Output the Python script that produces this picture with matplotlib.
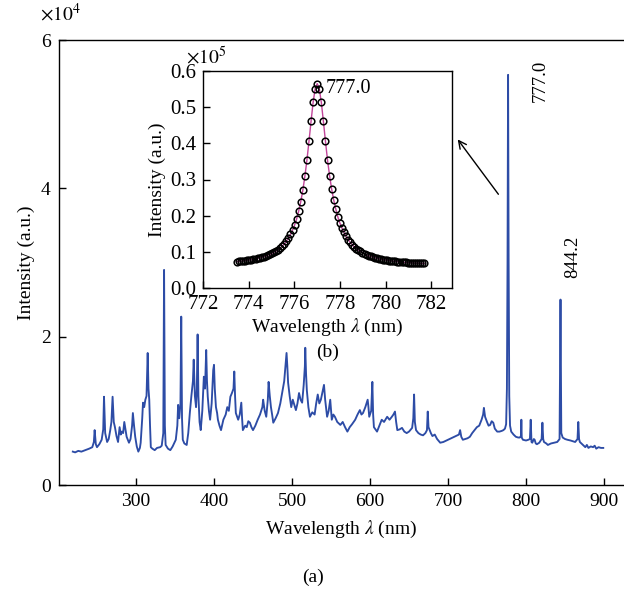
import matplotlib
matplotlib.use("Agg")
import matplotlib.pyplot as plt

plt.rcParams["font.family"] = ["Liberation Serif", "DejaVu Serif"]
plt.rcParams["mathtext.fontset"] = "stix"

W, H = 624, 592

# main spectrum: wavelength (nm), intensity (x1e4)
wl = [219, 222, 226, 230, 235, 240, 244, 246, 247, 248.5, 250, 253, 256, 258, 259, 260.5,
      263, 265, 267, 268.5, 270, 271.5, 273, 275, 277, 279, 280.5, 282, 283.5, 285, 286.5,
      288, 291, 293, 295, 296, 297.5, 299, 301, 303, 305, 306, 308, 309, 310.5, 312, 313.5,
      315, 316, 317, 318, 319, 321, 324, 327, 331, 333, 335, 336, 337, 338, 341, 344, 347,
      351, 353, 354, 355.5, 357, 358, 359, 360, 362, 365, 367, 369, 371, 373, 374, 375.5,
      377, 378, 379, 380, 381.5, 383, 385, 387, 388.5, 390, 391, 392, 393.5, 395, 397, 399,
      400, 401, 402.5, 404, 405, 407, 409, 412, 415, 417, 419, 421, 423, 425, 426, 427, 428,
      431, 433, 435, 436, 437, 440, 442, 444, 446, 448, 450, 453, 456, 459, 462, 463, 465,
      467, 469, 470, 471.5, 473, 474.5, 476, 479, 482, 485, 488, 490, 492, 493, 494, 495,
      497, 499, 501, 503, 505, 507, 509, 511, 513, 515, 516.5, 517, 518, 519, 521, 523, 526,
      529, 531, 533, 535, 537, 539, 541, 542.5, 545, 547, 549, 551, 553, 555, 558, 562, 565,
      568, 571, 574, 577, 581, 584, 587, 589, 591, 594, 597, 598, 599, 601.5, 603, 604, 605,
      607, 609, 612, 615, 618, 622, 625, 628, 630, 632, 633.5, 635, 638, 641, 644, 647, 650,
      654, 655.5, 656.5, 657.5, 659, 662, 665, 668, 671, 673, 674, 675, 678, 680, 683, 686,
      690, 694, 698, 702, 706, 710, 714, 715.5, 717, 719, 722, 725, 728, 731, 734, 737, 740,
      743, 745, 746, 747.5, 750, 752, 754, 756, 758, 760, 763, 766, 769, 771, 773, 774.5,
      775.5, 776.3, 777, 777.7, 778.5, 779.5, 781, 784, 787, 790, 792, 793.5, 794, 794.5,
      796, 800, 803, 805, 806, 807, 808, 810, 811, 812.5, 814, 817, 820, 821, 822, 823, 826,
      828, 832, 836, 840, 843, 844.2, 845.2, 847, 850, 853, 857, 860, 863, 866, 867, 868,
      869, 872, 876, 878, 880, 883, 886, 888, 890, 893, 896, 899]
inten = [0.45, 0.44, 0.46, 0.45, 0.47, 0.49, 0.51, 0.58, 0.74, 0.55, 0.51, 0.55, 0.61, 0.75, 1.19, 0.70,
         0.58, 0.62, 0.74, 0.85, 1.19, 0.85, 0.78, 0.66, 0.58, 0.78, 0.68, 0.72, 0.70, 0.85, 0.75,
         0.65, 0.57, 0.62, 0.80, 0.97, 0.80, 0.65, 0.52, 0.45, 0.50, 0.57, 0.90, 1.11, 1.05, 1.15, 1.20,
         1.78, 1.30, 1.15, 0.80, 0.51, 0.49, 0.47, 0.50, 0.51, 0.53, 0.70, 2.90, 0.80, 0.54, 0.49, 0.47, 0.52,
         0.61, 0.80, 1.08, 0.90, 1.10, 2.27, 0.90, 0.61, 0.56, 0.54, 0.70, 0.97, 1.20, 1.40, 1.69, 1.20,
         1.05, 1.30, 2.03, 1.20, 0.85, 0.74, 1.00, 1.46, 1.30, 1.82, 1.40, 1.19, 1.00, 0.88, 1.10, 1.55,
         1.62, 1.30, 1.05, 0.97, 0.88, 0.80, 0.74, 0.88, 0.95, 1.05, 1.00, 1.19, 1.24, 1.30, 1.53, 1.20, 0.97,
         0.88, 0.95, 1.11, 0.90, 0.74, 0.80, 0.78, 0.86, 0.84, 0.78, 0.74, 0.80, 0.88, 0.95, 1.05, 1.15, 1.00,
         0.92, 1.15, 1.39, 1.20, 1.05, 0.95, 0.84, 0.90, 0.97, 1.10, 1.28, 1.40, 1.65, 1.78, 1.60, 1.38,
         1.20, 1.05, 1.15, 1.08, 1.01, 1.10, 1.24, 1.15, 1.11, 1.35, 1.60, 1.85, 1.50, 1.28, 1.05, 0.92, 0.98,
         0.95, 1.10, 1.22, 1.10, 1.15, 1.25, 1.35, 1.15, 0.92, 1.00, 1.15, 0.88, 0.95, 0.92, 0.85, 0.81, 0.85,
         0.78, 0.72, 0.78, 0.82, 0.88, 0.95, 1.01, 0.95, 0.97, 1.05, 1.15, 1.05, 0.92, 1.00, 1.39, 0.95, 0.78,
         0.75, 0.72, 0.80, 0.88, 0.85, 0.92, 0.88, 0.92, 0.95, 0.99, 0.85, 0.74, 0.75, 0.77, 0.72, 0.70, 0.72,
         0.77, 0.90, 1.22, 0.85, 0.74, 0.70, 0.68, 0.67, 0.70, 0.74, 0.99, 0.78, 0.70, 0.66, 0.68, 0.62,
         0.57, 0.58, 0.60, 0.62, 0.64, 0.66, 0.68, 0.74, 0.65, 0.61, 0.62, 0.63, 0.65, 0.70, 0.74, 0.78, 0.80,
         0.88, 0.95, 1.04, 0.92, 0.85, 0.80, 0.81, 0.86, 0.84, 0.76, 0.72, 0.72, 0.73, 0.74, 0.76, 0.82,
         1.30, 3.00, 5.53, 3.00, 1.20, 0.80, 0.72, 0.68, 0.65, 0.64, 0.64, 0.66, 0.88, 0.64,
         0.61, 0.60, 0.61, 0.62, 0.88, 0.58, 0.57, 0.62, 0.61, 0.56, 0.55, 0.57, 0.62, 0.84, 0.62, 0.58, 0.56,
         0.54, 0.56, 0.57, 0.58, 0.62, 2.50, 0.70, 0.64, 0.62, 0.61, 0.60, 0.59, 0.58, 0.62, 0.85, 0.62,
         0.58, 0.55, 0.51, 0.54, 0.50, 0.52, 0.51, 0.53, 0.49, 0.51, 0.50, 0.50]

# inset: measured points around the 777.0 nm line (x1e5)
wl_in = [773.49, 773.58, 773.67, 773.76, 773.85, 773.94, 774.03, 774.12, 774.21, 774.30,
         774.39, 774.48, 774.57, 774.66, 774.75, 774.84, 774.93, 775.02, 775.11, 775.20,
         775.29, 775.38, 775.47, 775.56, 775.65, 775.74, 775.83, 775.92, 776.01, 776.10,
         776.19, 776.28, 776.37, 776.46, 776.55, 776.64, 776.73, 776.82, 776.91, 777.00,
         777.09, 777.18, 777.27, 777.36, 777.45, 777.54, 777.63, 777.72, 777.81, 777.90,
         777.99, 778.08, 778.17, 778.26, 778.35, 778.44, 778.53, 778.62, 778.71, 778.80,
         778.89, 778.98, 779.07, 779.16, 779.25, 779.34, 779.43, 779.52, 779.61, 779.70,
         779.79, 779.88, 779.97, 780.06, 780.15, 780.24, 780.33, 780.42, 780.51, 780.60,
         780.69, 780.78, 780.87, 780.96, 781.05, 781.14, 781.23, 781.32, 781.41, 781.50,
         781.59, 781.68]
int_in = [0.073, 0.074, 0.074, 0.075, 0.076, 0.077, 0.078, 0.078, 0.080, 0.081,
          0.082, 0.083, 0.085, 0.087, 0.088, 0.091, 0.093, 0.096, 0.099, 0.102,
          0.106, 0.111, 0.116, 0.122, 0.129, 0.138, 0.148, 0.160, 0.174, 0.191,
          0.213, 0.239, 0.270, 0.309, 0.354, 0.406, 0.461, 0.513, 0.551, 0.565,
          0.551, 0.513, 0.461, 0.406, 0.354, 0.311, 0.274, 0.244, 0.219, 0.197,
          0.180, 0.166, 0.154, 0.143, 0.134, 0.127, 0.120, 0.114, 0.109, 0.105,
          0.101, 0.098, 0.095, 0.092, 0.089, 0.088, 0.086, 0.084, 0.082, 0.081,
          0.080, 0.078, 0.078, 0.077, 0.076, 0.075, 0.074, 0.074, 0.073, 0.072,
          0.072, 0.071, 0.071, 0.070, 0.070, 0.070, 0.069, 0.069, 0.069, 0.068,
          0.068, 0.068]

main_xticks = [300, 400, 500, 600, 700, 800, 900]
main_yticks = [0, 2, 4, 6]
in_xticks = [772, 774, 776, 778, 780, 782]
in_yticks = [0.0, 0.1, 0.2, 0.3, 0.4, 0.5, 0.6]

BLUE = "#2d4ca6"
MAG = "#c2459b"


def fx(px):
    return px / W


def fy(py):
    return 1 - py / H


fig = plt.figure(figsize=(W / 100, H / 100), dpi=100)

# main axes (right edge runs off the canvas like the original)
ax = fig.add_axes([fx(59), fy(485), 1 - fx(59), (485 - 40) / H])
ax.plot(wl, inten, color=BLUE, lw=1.35)
ax.set_xlim(201.3, 925.6)
ax.set_ylim(0, 6)
ax.set_xticks(main_xticks)
ax.set_yticks(main_yticks)
ax.set_yticklabels([str(v) for v in main_yticks])
ax.tick_params(direction="in", length=5, width=1, labelsize=14, pad=6)
ax.spines["right"].set_visible(False)
for s in ax.spines.values():
    s.set_linewidth(1)
ax.set_xlabel(r"Wavelength $\lambda$ (nm)", fontsize=14, labelpad=6)
ax.set_ylabel("Intensity (a.u.)", fontsize=14, labelpad=4)
fig.text(fx(40), fy(14), r"$\times 10^4$", fontsize=14, va="center", ha="left")

# peak labels
ax.text(818, 5.45, "777.0", rotation=90, fontsize=13.5, ha="center", va="center")
ax.text(860, 3.08, "844.2", rotation=90, fontsize=13.5, ha="center", va="center")
ax.annotate("", xy=(710.3, 4.69), xytext=(766.7, 3.89),
            arrowprops=dict(arrowstyle="->", color="black", lw=1, mutation_scale=14))

fig.text(fx(313), fy(577), "(a)", fontsize=14, ha="center", va="center")

# inset
axi = fig.add_axes([fx(203), fy(288), (452 - 203) / W, (288 - 71) / H])
axi.plot(wl_in, int_in, color=MAG, lw=1.0, zorder=2)
axi.plot(wl_in, int_in, ls="none", marker="o", ms=4.8, mfc="none", mec="black",
         mew=1.1, zorder=3)
axi.set_xlim(772, 782.9)
axi.set_ylim(0, 0.6)
axi.set_xticks(in_xticks)
axi.set_yticks(in_yticks)
axi.set_yticklabels([f"{v:.1f}" for v in in_yticks])
axi.tick_params(direction="in", length=5, width=1, labelsize=15, pad=5)
for s in axi.spines.values():
    s.set_linewidth(1)
axi.set_xlabel(r"Wavelength $\lambda$ (nm)", fontsize=14, labelpad=2)
axi.set_ylabel("Intensity (a.u.)", fontsize=14, labelpad=3)
axi.text(777.38, 0.552, "777.0", fontsize=14.5, ha="left", va="center")
fig.text(fx(186), fy(57), r"$\times 10^5$", fontsize=14, va="center", ha="left")
fig.text(fx(328), fy(352), "(b)", fontsize=14, ha="center", va="center")

fig.savefig("out.png", dpi=100, facecolor="white")
